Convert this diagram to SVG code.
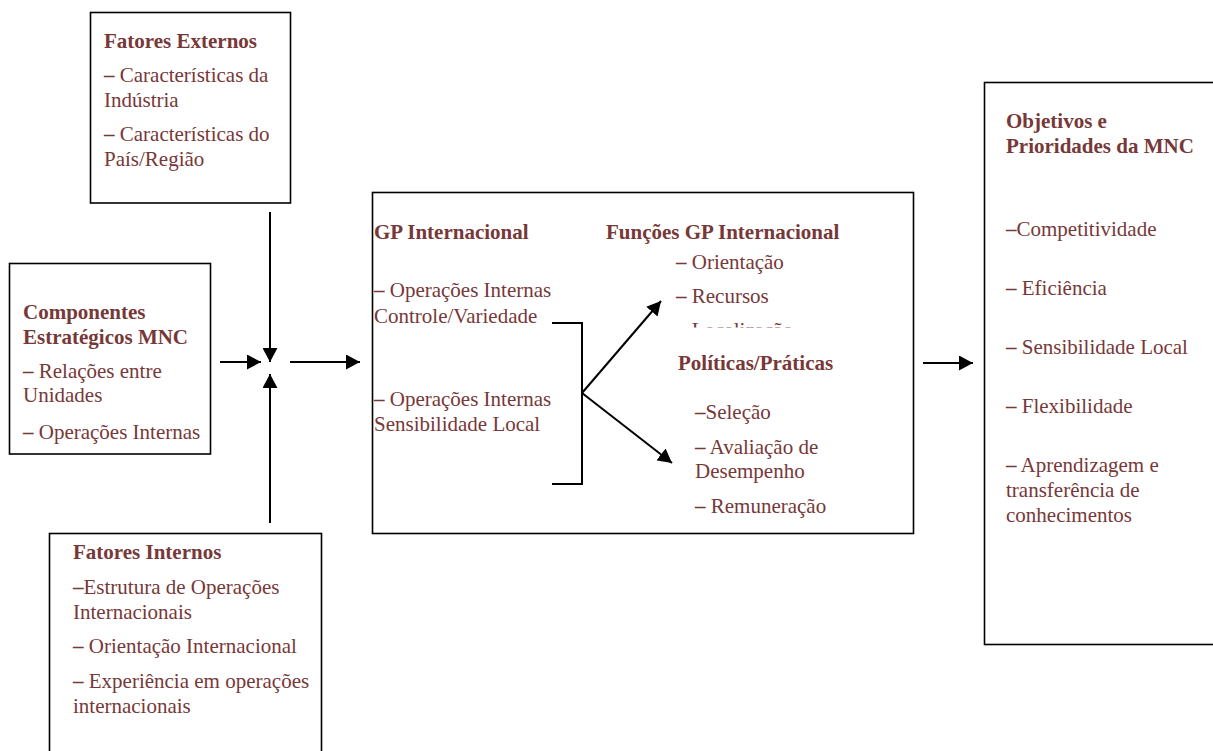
<svg xmlns="http://www.w3.org/2000/svg" width="1213" height="751" viewBox="0 0 1213 751">
<style>
.box{fill:#fff;stroke:#000;stroke-width:1.6}
text{font-family:"Liberation Serif","Times New Roman",serif;font-size:21px;fill:#773838}
.b{font-weight:bold}
.d{font-weight:bold}
.ln{stroke:#000;stroke-width:2;fill:none}
</style>
<defs>
<marker id="ah" markerUnits="userSpaceOnUse" markerWidth="15" markerHeight="15" refX="14" refY="7.5" orient="auto">
<path d="M0,0 L14,7.5 L0,15 z" fill="#000"/>
</marker>
<clipPath id="clipLoc"><rect x="600" y="300" width="300" height="27.5"/></clipPath>
</defs>
<rect width="1213" height="751" fill="#fff"/>

<g id="fatores-externos">
<rect class="box" x="90.5" y="12.5" width="200" height="190.5"/>
<text class="b" x="104" y="48">Fatores Externos</text>
<text x="104" y="82"><tspan class="d">–</tspan> Características da</text>
<text x="104" y="107">Indústria</text>
<text x="104" y="141"><tspan class="d">–</tspan> Características do</text>
<text x="104" y="166">País/Região</text>
</g>

<g id="componentes">
<rect class="box" x="9.5" y="263.5" width="201" height="190.5"/>
<text class="b" x="23" y="319">Componentes</text>
<text class="b" x="23" y="344">Estratégicos MNC</text>
<text x="23" y="378"><tspan class="d">–</tspan> Relações entre</text>
<text x="23" y="402">Unidades</text>
<text x="23" y="439"><tspan class="d">–</tspan> Operações Internas</text>
</g>

<g id="fatores-internos">
<rect class="box" x="49.5" y="533.5" width="272" height="240"/>
<text class="b" x="73" y="559">Fatores Internos</text>
<text x="73" y="594"><tspan class="d">–</tspan>Estrutura de Operações</text>
<text x="73" y="619">Internacionais</text>
<text x="73" y="653"><tspan class="d">–</tspan> Orientação Internacional</text>
<text x="73" y="688"><tspan class="d">–</tspan> Experiência em operações</text>
<text x="73" y="713">internacionais</text>
</g>

<g id="gp-internacional">
<rect class="box" x="372.5" y="192.5" width="541" height="341"/>
<text class="b" x="374" y="239">GP Internacional</text>
<text x="374" y="297"><tspan class="d">–</tspan> Operações Internas</text>
<text x="374" y="323">Controle/Variedade</text>
<text x="374" y="406"><tspan class="d">–</tspan> Operações Internas</text>
<text x="374" y="431">Sensibilidade Local</text>
<text class="b" x="606" y="239">Funções GP Internacional</text>
<text x="676" y="269"><tspan class="d">–</tspan> Orientação</text>
<text x="676" y="303"><tspan class="d">–</tspan> Recursos</text>
<text x="676" y="337" clip-path="url(#clipLoc)"><tspan class="d">–</tspan> Localização</text>
<text class="b" x="678" y="370">Políticas/Práticas</text>
<text x="695" y="419"><tspan class="d">–</tspan>Seleção</text>
<text x="695" y="454"><tspan class="d">–</tspan> Avaliação de</text>
<text x="695" y="478">Desempenho</text>
<text x="695" y="513"><tspan class="d">–</tspan> Remuneração</text>
</g>

<g id="objetivos">
<rect class="box" x="984.5" y="82.5" width="240" height="562"/>
<text class="b" x="1006" y="128">Objetivos e</text>
<text class="b" x="1006" y="153">Prioridades da MNC</text>
<text x="1006" y="236"><tspan class="d">–</tspan>Competitividade</text>
<text x="1006" y="295"><tspan class="d">–</tspan> Eficiência</text>
<text x="1006" y="354"><tspan class="d">–</tspan> Sensibilidade Local</text>
<text x="1006" y="413"><tspan class="d">–</tspan> Flexibilidade</text>
<text x="1006" y="472"><tspan class="d">–</tspan> Aprendizagem e</text>
<text x="1006" y="497">transferência de</text>
<text x="1006" y="522">conhecimentos</text>
</g>

<g id="connectors">
<line class="ln" x1="270" y1="212" x2="270" y2="362" marker-end="url(#ah)"/>
<line class="ln" x1="270" y1="523" x2="270" y2="374" marker-end="url(#ah)"/>
<line class="ln" x1="220" y1="362" x2="261" y2="362" marker-end="url(#ah)"/>
<line class="ln" x1="290" y1="362" x2="360" y2="362" marker-end="url(#ah)"/>
<line class="ln" x1="923" y1="363" x2="973" y2="363" marker-end="url(#ah)"/>
<polyline class="ln" points="552,323 582,323 582,484 552,484"/>
<line class="ln" x1="582" y1="393" x2="661" y2="301" marker-end="url(#ah)"/>
<line class="ln" x1="582" y1="393" x2="672" y2="463" marker-end="url(#ah)"/>
</g>
</svg>
